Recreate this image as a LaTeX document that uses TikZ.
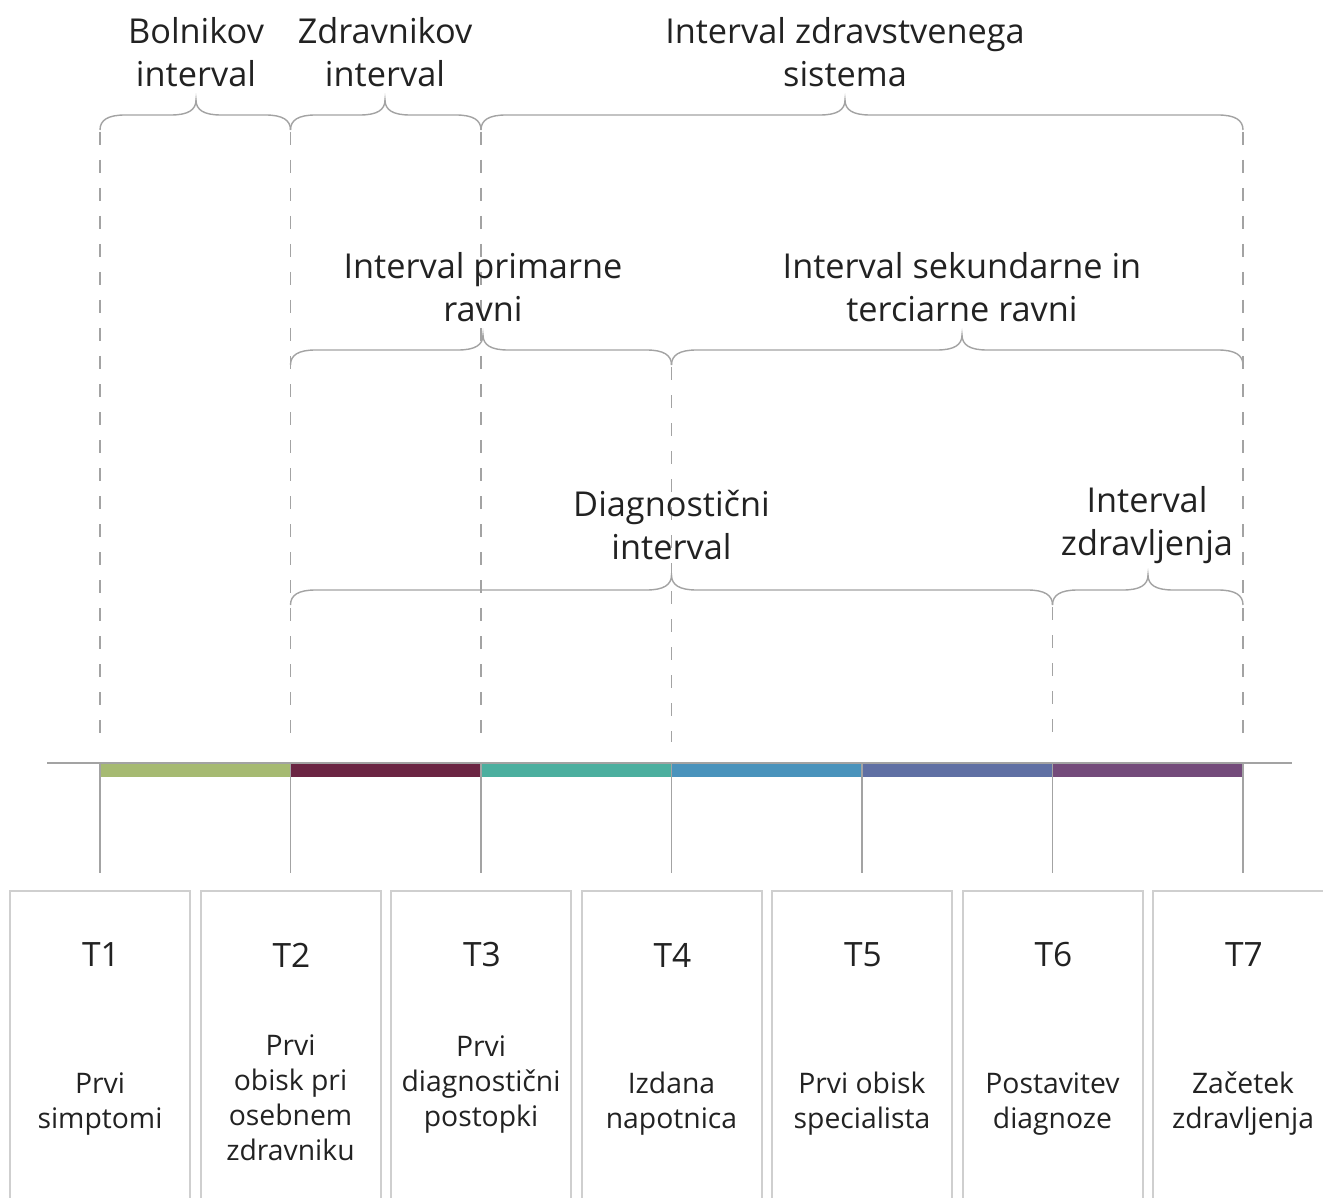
\documentclass[tikz,border=0pt]{standalone}
\usepackage{fontspec}
\setmainfont{Open Sans}
\definecolor{ink}{HTML}{222222}
\definecolor{linegray}{HTML}{A3A3A3}
\definecolor{boxgray}{HTML}{CFCFCF}
\definecolor{cA}{HTML}{A6BA72}
\definecolor{cB}{HTML}{6B2543}
\definecolor{cC}{HTML}{4CAF9F}
\definecolor{cD}{HTML}{4A93BC}
\definecolor{cE}{HTML}{6070A4}
\definecolor{cF}{HTML}{744B7B}
\newcommand\hbrace[4]{\draw[brc] (#1,{#4+15}) .. controls (#1,{#4+5}) and ({#1+8},#4) .. ({#1+25},#4) -- ({#2-25},#4) .. controls ({#2-8},#4) and (#2,{#4-5}) .. (#2,{#4-15}) .. controls (#2,{#4-5}) and ({#2+8},#4) .. ({#2+25},#4) -- ({#3-25},#4) .. controls ({#3-8},#4) and (#3,{#4+5}) .. (#3,{#4+15});}
\begin{document}
\begin{tikzpicture}[x=1pt,y=-1pt,
  txt/.style={font=\fontsize{34.3}{43}\selectfont, text=ink, align=center, inner sep=0},
  boxtxt/.style={font=\fontsize{28.3}{35}\selectfont, text=ink, align=center, inner sep=0},
  ttl/.style={font=\fontsize{33.5}{40}\selectfont, text=ink, inner sep=0},
  tbox/.style={draw=boxgray, line width=2pt, minimum width=180pt, minimum height=330pt, anchor=north, inner sep=0},
  brc/.style={draw=linegray, line width=1.4pt},
  guide/.style={draw=linegray, line width=1.4pt, dash pattern=on 13pt off 15pt},
  tick/.style={draw=linegray, line width=1.4pt}]
\useasboundingbox (0,0) rectangle (1323,1198);
\clip (0,0) rectangle (1323,1198);
\fill[white] (0,0) rectangle (1323,1198);

% axis points
\foreach \i in {1,...,7} {
  \coordinate (T\i) at ({100+190.5*(\i-1)},763);
  \coordinate (E\i) at ({100+190.5*(\i-1)},873);
}
% colour bar
\fill[cA] (100,763) rectangle (290.5,777);
\fill[cB] (290.5,763) rectangle (481,777);
\fill[cC] (481,763) rectangle (671.5,777);
\fill[cD] (671.5,763) rectangle (862,777);
\fill[cE] (862,763) rectangle (1052.5,777);
\fill[cF] (1052.5,763) rectangle (1243,777);
\coordinate (axL) at (47,763);
\coordinate (axR) at (1292,763);
\draw[tick] (axL) -- (axR);
\foreach \i in {1,...,7} { \draw[tick] (T\i) -- (E\i); }

% boxes
\foreach \i in {1,...,7} {
  \node[tbox] (box\i) at ({100+190.5*(\i-1)},890) {};
  \node[ttl] (t\i) at ({101+190.5*(\i-1)},955) {T\i};
}
\node[boxtxt] (d1) at (100,1104) {Prvi\\simptomi};
\node[boxtxt] (d2) at (290.5,1098) {Prvi\\obisk pri\\osebnem\\zdravniku};
\node[boxtxt] (d3) at (481,1085) {Prvi\\diagnostični\\postopki};
\node[boxtxt] (d4) at (671.5,1104) {Izdana\\napotnica};
\node[boxtxt] (d5) at (862,1104) {Prvi obisk\\specialista};
\node[boxtxt] (d6) at (1052.5,1104) {Postavitev\\diagnoze};
\node[boxtxt] (d7) at (1243,1104) {Začetek\\zdravljenja};

% guides
\foreach \x in {100,290.5,481,1243} { \draw[guide] (\x,132) -- (\x,742); }
\draw[guide] (671.5,367) -- (671.5,742);
\draw[guide] (1052.5,607) -- (1052.5,742);

% braces
\hbrace{100}{196}{290.5}{115}
\hbrace{290.5}{385}{481}{115}
\hbrace{481}{845}{1243}{115}
\hbrace{290.5}{483}{671.5}{350}
\hbrace{671.5}{962}{1243}{350}
\hbrace{290.5}{671.5}{1052.5}{590}
\hbrace{1052.5}{1148}{1243}{590}

% labels
\node[txt] (l1) at (196,52) {Bolnikov\\interval};
\node[txt] (l2) at (385,52) {Zdravnikov\\interval};
\node[txt] (l3) at (845,52) {Interval zdravstvenega\\sistema};
\node[txt] (l4) at (483,287) {Interval primarne\\ravni};
\node[txt] (l5) at (962,287) {Interval sekundarne in\\terciarne ravni};
\node[txt] (l6) at (671.5,525) {Diagnostični\\interval};
\node[txt] (l7) at (1147,525) {Interval\\zdravljenja};
\end{tikzpicture}
\end{document}
